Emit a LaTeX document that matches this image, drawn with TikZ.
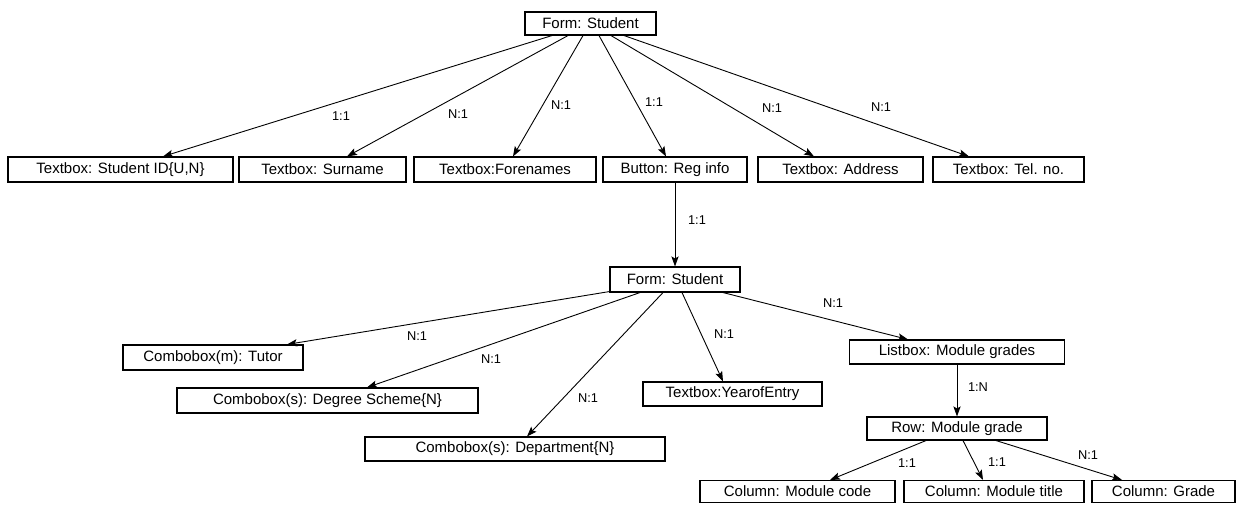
\documentclass[tikz,border=0pt]{standalone}
\usepackage{fontspec}
\setmainfont{Liberation Sans}
\usetikzlibrary{arrows.meta,calc}

\tikzset{
  ui/.style={draw=black, line width=0.55pt, rectangle, inner sep=0pt,
    minimum height=12.5pt, font=\fontsize{7.5}{9}\selectfont},
  rel/.style={draw=black, line width=0.45pt,
    -{Stealth[length=5pt,width=3.6pt,inset=1pt]}},
  card/.style={inner sep=0pt, font=\fontsize{6.4}{7}\selectfont},
}

\begin{document}
\begin{tikzpicture}[x=0.5pt,y=-0.5pt]
\useasboundingbox (0,0) rectangle (1240,504);

% main form and its controls
\node[ui, minimum width=65.5pt, minimum height=11.5pt] (F1) at (590.5,23.5) {Form: Student};
\node[ui, minimum width=112.5pt] (sid)  at (120.5,169.5) {Textbox: Student ID\{U,N\}};
\node[ui, minimum width=83.5pt]  (sur)  at (322.5,169.5) {Textbox: Surname};
\node[ui, minimum width=91pt]    (fore) at (505,169.5)   {Textbox:Forenames};
\node[ui, minimum width=72pt]    (btn)  at (675,169.5)   {Button: Reg info};
\node[ui, minimum width=82.5pt]  (addr) at (840.5,169.5) {Textbox: Address};
\node[ui, minimum width=75.5pt]  (tel)  at (1008.5,169.5) {Textbox: Tel. no.};

% registration form
\node[ui, minimum width=65pt] (F2) at (675,279.5) {Form: Student};
\node[ui, minimum width=90pt]    (tutor) at (213,357.5)  {Combobox(m): Tutor};
\node[ui, minimum width=150.5pt] (deg)   at (327.5,400.5) {Combobox(s): Degree Scheme\{N\}};
\node[ui, minimum width=150pt, minimum height=12pt] (dept) at (515,449) {Combobox(s): Department\{N\}};
\node[ui, minimum width=89.5pt, minimum height=12pt] (year) at (732.5,394) {Textbox:YearofEntry};
\node[ui, minimum width=107.5pt, minimum height=12pt] (list) at (957,352) {Listbox: Module grades};
\node[ui, minimum width=90pt, minimum height=11.5pt] (row) at (957,428.5) {Row: Module grade};
\node[ui, minimum width=97.5pt, minimum height=11pt] (code)  at (797.5,491.5) {Column: Module code};
\node[ui, minimum width=90pt, minimum height=11pt]   (title) at (994,491.5)   {Column: Module title};
\node[ui, minimum width=71.5pt, minimum height=11pt] (grade) at (1163.5,491.5) {Column: Grade};

% connectors of the main form
\draw[rel] ($(F1.south)+(-38.5,0)$) -- ($(sid.north)+(42.5,0)$);
\draw[rel] ($(F1.south)+(-22.5,0)$) -- ($(sur.north)+(24.5,0)$);
\draw[rel] ($(F1.south)+(-7.5,0)$)  -- ($(fore.north)+(8,0)$);
\draw[rel] ($(F1.south)+(8.5,0)$)   -- ($(btn.north)+(-9,0)$);
\draw[rel] ($(F1.south)+(20.5,0)$)  -- ($(addr.north)+(-26.5,0)$);
\draw[rel] ($(F1.south)+(33.5,0)$)  -- ($(tel.north)+(-39.5,0)$);
\draw[rel] (btn.south) -- (btn.south |- F2.north);

% connectors of the registration form
\draw[rel] ($(F2.south west)+(0,-1)$) -- ($(tutor.north)+(74,0)$);
\draw[rel] ($(F2.south)+(-35,0)$) -- ($(deg.north)+(39.5,0)$);
\draw[rel] ($(F2.south)+(-12,0)$) -- ($(dept.north)+(12,0)$);
\draw[rel] ($(F2.south)+(7,0)$)   -- ($(year.north)+(-9.5,0)$);
\draw[rel] ($(F2.south)+(48,0)$)  -- ($(list.north)+(-49,0)$);
\draw[rel] (list.south) -- (list.south |- row.north);
\draw[rel] ($(row.south)+(-31,0)$) -- ($(code.north)+(32.5,0)$);
\draw[rel] ($(row.south)+(6,0)$)   -- ($(title.north)+(-11,0)$);
\draw[rel] ($(row.south)+(39,0)$)  -- ($(grade.north)+(-41.5,0)$);

% cardinalities
\node[card] (c1)  at (341,116) {1:1};
\node[card] (c2)  at (458,114) {N:1};
\node[card] (c3)  at (561,105) {N:1};
\node[card] (c4)  at (654,102) {1:1};
\node[card] (c5)  at (772,108) {N:1};
\node[card] (c6)  at (881,107) {N:1};
\node[card] (c7)  at (697,220) {1:1};
\node[card] (c8)  at (417,336) {N:1};
\node[card] (c9)  at (491,359) {N:1};
\node[card] (c10) at (588,398) {N:1};
\node[card] (c11) at (724,334) {N:1};
\node[card] (c12) at (833,303) {N:1};
\node[card] (c13) at (978,387) {1:N};
\node[card] (c14) at (907,463) {1:1};
\node[card] (c15) at (997,462) {1:1};
\node[card] (c16) at (1088,455) {N:1};
\end{tikzpicture}
\end{document}
